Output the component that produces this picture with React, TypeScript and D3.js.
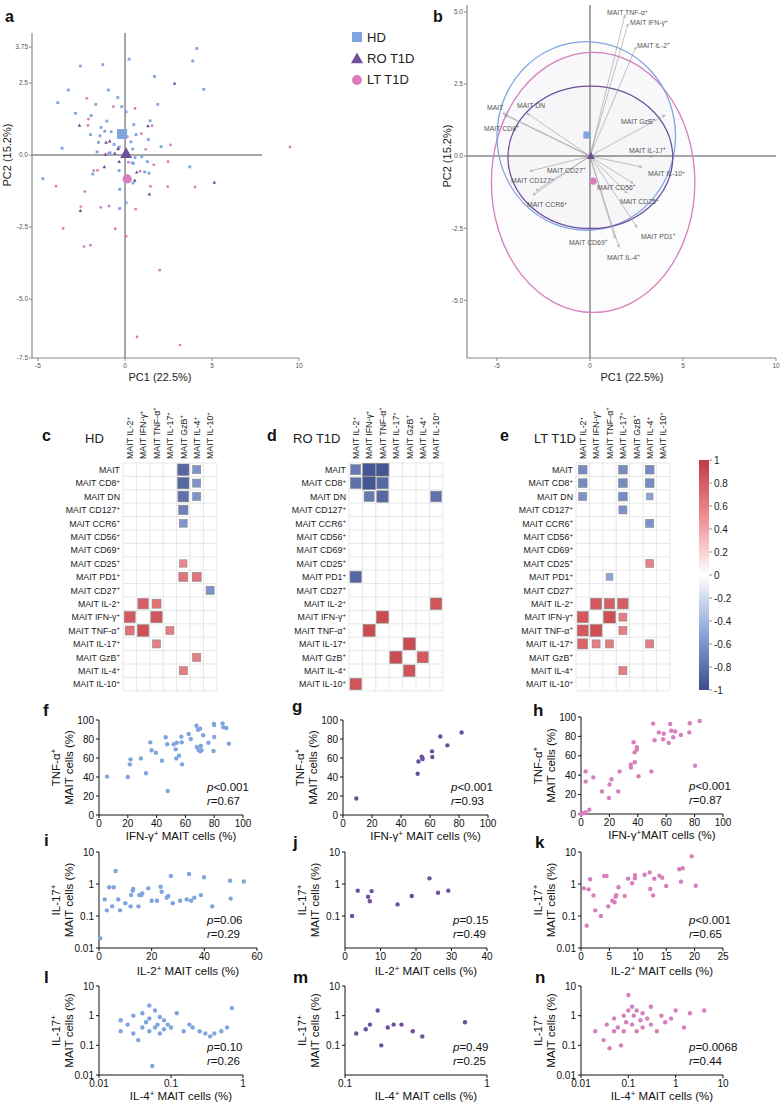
import React from "react";
import * as d3 from "d3";

const FONT = "'Liberation Sans', Arial, Helvetica, sans-serif";
const COL_HD = "#7fa5de";
const COL_RO = "#6d4f9b";
const COL_LT = "#d77fbd";

// ---------- Panel a : PCA individuals ----------
const pcaHD: [number, number][] = [
  [4.12, 3.7], [3.89, 3.27], [0.23, 3.33], [-2.57, 3.09], [-1.28, 3.14], [1.69, 2.73], [-3.26, 2.26],
  [-0.96, 2.26], [4.52, 2.28], [-3.87, 1.82], [-1.68, 1.76], [-0.42, 2.0], [1.88, 1.76], [-0.19, 1.68],
  [-2.85, 1.45], [0.06, 1.5], [-1.95, 1.37], [-1.05, 1.18], [1.44, 1.19], [0.5, 1.06], [-1.38, 0.96],
  [-1.17, 0.83], [-1.99, 0.71], [-0.8, 0.81], [-1.44, 0.67], [0.63, 0.71], [1.34, 0.54], [-1.53, 0.44],
  [-0.63, 0.37], [0.34, 0.46], [-3.62, 0.24], [-0.34, 0.28], [0.44, 0.21], [2.07, 0.29], [-1.61, 0.11],
  [-0.86, 0.08], [0.57, -0.09], [0.96, -0.06], [-1.86, -0.66], [-4.73, -0.82], [1.28, -0.23], [0.4, -0.27],
  [3.72, -0.41], [1.13, -0.59], [1.38, -0.63], [-0.34, -0.54], [0.46, -0.97], [-0.31, -1.19], [0.06, -1.66],
  [-0.31, -1.86], [0.48, -0.29],
];
const pcaRO: [number, number][] = [
  [2.85, 2.49], [-2.62, 1.03], [1.32, 1.01], [-1.09, 0.44], [-0.88, 0.48], [-1.13, 0.02], [-0.59, 0.06],
  [-0.4, 0.23], [-1.19, -0.41], [-0.34, -0.23], [0.67, -0.6], [0.56, -0.88], [1.4, -1.36], [5.13, -0.95],
  [-2.57, -1.93],
];
const pcaLT: [number, number][] = [
  [-2.2, 1.97], [-0.67, 1.68], [0.57, 1.62], [-2.11, 1.25], [-2.13, 1.03], [1.55, 1.02], [0.94, 0.74],
  [2.62, 0.35], [1.19, 0.2], [-0.4, 0.2], [1.65, -0.34], [2.47, -0.23], [-1.59, -0.53], [-1.8, -0.54],
  [0.86, -0.56], [-0.94, 0.06], [-3.97, -1.08], [-2.32, -1.27], [1.46, -1.09], [2.45, -1.1], [4.02, -1.11],
  [-1.4, -1.82], [-0.92, -1.77], [0.61, -1.88], [-3.56, -2.55], [-0.56, -2.56], [-2.36, -3.18], [-1.99, -3.13],
  [0.06, -2.82], [1.99, -4.0], [0.69, -6.32], [3.16, -6.6], [9.48, 0.28], [0.13, 0.64], [0.19, -0.25],
  [-2.55, -1.79],
];
const centroidA = { HD: [-0.17, 0.73], RO: [0.06, 0.05], LT: [0.12, -0.83] };
const ticksAY = [3.75, 2.5, 0, -2.5, -5];
const ticksAX = [-5, 0, 5, 10];

// ---------- Panel b : PCA variables ----------
const loadingNames = [
  "MAIT TNF-α^+", "MAIT IFN-γ^+", "MAIT IL-2^+", "MAIT GzB^+", "MAIT IL-17^+", "MAIT IL-10^+",
  "MAIT CD56^+", "MAIT CD25^+", "MAIT PD1^+", "MAIT CD69^+", "MAIT IL-4^+", "MAIT CD27^+",
  "MAIT CD127^+", "MAIT CCR6^+", "MAIT", "MAIT DN", "MAIT CD8^+",
];
const loadingX = [1.88, 2.04, 2.47, 4.03, 3.39, 2.8, 2.31, 1.99, 2.53, 1.34, 1.56, -3.23, -3.06, -2.9, -4.68, -3.39, -4.57];
const loadingY = [4.9, 4.58, 3.78, 1.42, 0.0, -0.38, -0.94, -1.28, -2.47, -2.85, -3.16, -0.52, -1.35, -1.2, 1.49, 1.49, 1.42];
const labelOffB: [number, number][] = [
  [-18, -2], [2, -1], [1, -2], [-44, 6], [-24, -6], [6, 7], [-36, 4], [-7, 9], [4, 9], [-46, 4], [-12, 10],
  [17, -1], [-22, -14], [-9, 14], [-16, -6], [-10, -8], [-21, 13],
];
// ellipses: cx, cy, rx, ry (PC units)
const ellipseB = {
  LT: [0.17, -0.91, 5.47, 4.51],
  HD: [-0.2, 0.7, 4.8, 3.27],
  RO: [0.02, -0.04, 4.43, 2.47],
};
const centroidB = { HD: [-0.16, 0.73], RO: [0.05, 0.0], LT: [0.17, -0.87] };
const ticksBY = [5, 2.5, 0, -2.5, -5];
const ticksBX = [-5, 0, 5, 10];

// ---------- Correlation matrices ----------
const corrRows = [
  "MAIT", "MAIT CD8^+", "MAIT DN", "MAIT CD127^+", "MAIT CCR6^+", "MAIT CD56^+", "MAIT CD69^+",
  "MAIT CD25^+", "MAIT PD1^+", "MAIT CD27^+", "MAIT IL-2^+", "MAIT IFN-γ^+", "MAIT TNF-α^+",
  "MAIT IL-17^+", "MAIT GzB^+", "MAIT IL-4^+", "MAIT IL-10^+",
];
const corrCols = [
  "MAIT IL-2^+", "MAIT IFN-γ^+", "MAIT TNF-α^+", "MAIT IL-17^+", "MAIT GzB^+", "MAIT IL-4^+", "MAIT IL-10^+",
];
// [row, col, r]
const corrHD: [number, number, number][] = [
  [0, 4, -0.85], [0, 5, -0.6], [1, 4, -0.85], [1, 5, -0.6], [2, 4, -0.8], [2, 5, -0.6], [3, 4, -0.7],
  [4, 4, -0.58], [7, 4, 0.55], [8, 4, 0.67], [8, 5, 0.67], [9, 6, -0.6], [10, 1, 0.78], [10, 2, 0.67],
  [11, 0, 0.82], [11, 2, 0.84], [12, 0, 0.67], [12, 1, 0.86], [12, 3, 0.6], [13, 2, 0.6], [14, 5, 0.6],
  [15, 4, 0.6],
];
const corrRO: [number, number, number][] = [
  [0, 0, -0.75], [0, 1, -0.95], [0, 2, -0.95], [1, 0, -0.8], [1, 1, -0.95], [1, 2, -0.85], [2, 1, -0.75],
  [2, 2, -0.85], [2, 6, -0.8], [8, 0, -0.85], [10, 6, 0.85], [11, 2, 0.9], [12, 1, 0.9], [13, 4, 0.9],
  [14, 3, 0.9], [14, 5, 0.82], [15, 4, 0.85], [16, 0, 0.85],
];
const corrLT: [number, number, number][] = [
  [0, 0, -0.65], [0, 3, -0.65], [0, 5, -0.65], [1, 0, -0.65], [1, 3, -0.65], [1, 5, -0.65], [2, 0, -0.6],
  [2, 3, -0.65], [2, 5, -0.5], [3, 3, -0.6], [4, 5, -0.6], [7, 5, 0.58], [8, 2, -0.5], [10, 1, 0.82],
  [10, 2, 0.78], [10, 3, 0.78], [11, 0, 0.82], [11, 2, 0.88], [11, 3, 0.6], [12, 0, 0.82], [12, 1, 0.88],
  [12, 3, 0.6], [13, 0, 0.75], [13, 1, 0.6], [13, 2, 0.6], [13, 5, 0.6], [15, 3, 0.6],
];
const colorbarTicks = [1, 0.8, 0.6, 0.4, 0.2, 0, -0.2, -0.4, -0.6, -0.8, -1];

// ---------- Scatter panels ----------
const fX = [5.6, 20, 21.4, 21.9, 29.1, 32.6, 35.6, 36.5, 39.5, 43.7, 46.3, 47.4, 47.7, 51.9, 53.3, 54, 53.7, 55.6, 57.2, 57.4, 57.7, 63.7, 62.3, 67.7, 68.8, 70.2, 67.9, 69.1, 70.7, 71.2, 70.2, 72.3, 76, 79.8, 80, 80, 79.5, 85.8, 86.3, 88.4, 90.2];
const fY = [40.4, 40, 53.3, 58.6, 59.6, 43.9, 76.5, 68.1, 65.6, 57.2, 81.8, 74.4, 25.3, 74.4, 69.1, 76.1, 59.6, 62.5, 82.5, 76.5, 53.3, 80, 85.3, 94, 89.8, 90.9, 71.6, 68.4, 72.6, 68.1, 67, 83.9, 76.1, 95.8, 94.7, 82.1, 67.4, 96.5, 92.3, 91.6, 75.1];
const gX = [9.2, 51.5, 52, 54.3, 54.7, 54.9, 61.4, 61.6, 67.1, 72, 81.8];
const gY = [17.4, 43.4, 56.3, 61.5, 60.1, 59, 67, 61.1, 82.6, 73.3, 86.8];
const hX = [0, 1.2, 2.8, 5.9, 3.5, 3.3, 3.3, 8.7, 14.8, 19.7, 20.1, 21.5, 26.2, 27.2, 35.1, 35.1, 37, 37.7, 39.3, 39.3, 37.9, 40.5, 49.6, 50.8, 51.8, 54.8, 57.8, 58.3, 61.8, 62.8, 63.5, 64.9, 66.3, 70.3, 76.3, 76.6, 80.3, 83.6];
const hY = [0, 0.7, 1.7, 4.4, 1.4, 43.9, 33.4, 37.8, 23.3, 16.6, 30.4, 35.8, 23.3, 43.9, 51, 48, 74, 63.5, 68.9, 66.2, 53.4, 38.9, 43.9, 93.2, 76, 84.1, 77, 82.8, 73.3, 92.9, 85.8, 79.1, 85.1, 81.4, 84.1, 93.6, 49.7, 95.9];

const iX = [6.3, 3.9, 5.6, 2.2, 7.3, 12.2, 12.8, 13, 15.3, 16.1, 16.4, 18.7, 23.4, 23.8, 25.7, 26.3, 27.3, 30.8, 34.2, 33.3, 36.2, 38.7, 39.9, 49.8, 0.5, 3, 5, 8, 10, 12, 15, 20, 22, 28, 35, 43, 50, 55];
const iY = [2.55, 0.79, 0.79, 0.33, 0.33, 0.45, 0.62, 0.7, 0.45, 0.45, 0.51, 0.73, 0.82, 0.57, 0.37, 0.42, 1.78, 0.3, 2.05, 0.33, 0.37, 0.45, 1.62, 1.27, 0.02, 0.15, 0.2, 0.15, 0.25, 0.2, 0.2, 0.3, 0.3, 0.25, 0.3, 0.2, 0.35, 1.2];
const jX = [2, 3.6, 6.5, 7.0, 7.5, 14.8, 18.8, 23.8, 26.2, 29.1];
const jY = [0.1, 0.62, 0.4, 0.29, 0.6, 0.23, 0.42, 1.5, 0.53, 0.62];
const kX = [0.5, 1.35, 1.6, 2.2, 4.1, 4.5, 6.6, 6.1, 6.2, 7.7, 8.3, 9.0, 9.5, 9.5, 11.2, 12.1, 12.2, 12.7, 12.9, 13.8, 14.3, 15, 17.3, 17.9, 17.6, 19.5, 20.2, 5.9, 1, 2.5, 3.5, 4.8, 5.5];
const kY = [0.73, 0.68, 1.4, 0.44, 1.78, 1.78, 0.79, 0.4, 0.45, 0.42, 1.47, 1.05, 1.9, 1.5, 1.95, 2.3, 0.7, 0.44, 1.47, 1.82, 1.57, 0.87, 2.9, 3.1, 1.18, 7.3, 0.88, 0.27, 0.05, 0.15, 0.1, 0.2, 0.3];
const lX = [0.02, 0.02, 0.025, 0.03, 0.03, 0.035, 0.04, 0.04, 0.045, 0.05, 0.05, 0.05, 0.055, 0.06, 0.06, 0.065, 0.07, 0.07, 0.08, 0.08, 0.09, 0.1, 0.12, 0.15, 0.18, 0.2, 0.25, 0.3, 0.35, 0.4, 0.5, 0.6, 0.7];
const lY = [0.3, 0.7, 0.5, 0.25, 1.0, 0.15, 0.4, 1.2, 0.6, 0.3, 0.8, 2.2, 0.02, 0.4, 1.5, 0.5, 0.9, 0.25, 0.35, 0.7, 0.5, 0.4, 1.2, 0.3, 0.5, 0.4, 0.3, 0.25, 0.2, 0.25, 0.3, 0.4, 1.8];
const mX = [0.12, 0.14, 0.15, 0.17, 0.18, 0.2, 0.22, 0.25, 0.3, 0.35, 0.7];
const mY = [0.25, 0.35, 0.5, 1.5, 0.1, 0.4, 0.5, 0.5, 0.3, 0.2, 0.6];
const nX = [0.02, 0.03, 0.035, 0.04, 0.05, 0.05, 0.06, 0.07, 0.08, 0.08, 0.09, 0.1, 0.1, 0.12, 0.12, 0.13, 0.15, 0.15, 0.18, 0.2, 0.2, 0.25, 0.3, 0.3, 0.4, 0.5, 0.6, 0.8, 1.0, 1.5, 2, 4];
const nY = [0.3, 0.15, 0.5, 0.08, 0.3, 0.8, 0.4, 0.1, 1.0, 0.3, 0.6, 5.0, 1.5, 0.5, 2.0, 1.0, 0.3, 1.5, 0.7, 0.4, 1.2, 0.8, 0.5, 2.0, 0.3, 1.0, 0.6, 0.8, 1.5, 0.4, 1.2, 1.5];

// ---------- helpers ----------
function rich(s: string, fs: number) {
  const parts = s.split("^");
  const out: React.ReactNode[] = [<tspan key="p0">{parts[0]}</tspan>];
  const shift = fs * 0.38;
  for (let i = 1; i < parts.length; i++) {
    const sup = parts[i].charAt(0);
    const rest = parts[i].slice(1);
    out.push(
      <tspan key={"s" + i} dy={-shift} fontSize={fs * 0.7}>
        {sup}
      </tspan>
    );
    if (rest) out.push(<tspan key={"r" + i} dy={shift}>{rest}</tspan>);
  }
  return out;
}

const Letter = ({ x, y, t }: { x: number; y: number; t: string }) => (
  <text x={x} y={y} fontSize={16} fontWeight="bold" fontFamily={FONT} fill="#111">
    {t}
  </text>
);

function triPath(cx: number, cy: number, s: number) {
  const h = s * 0.9;
  return `M${cx},${cy - h * 0.6} L${cx + s / 2},${cy + h * 0.4} L${cx - s / 2},${cy + h * 0.4} Z`;
}

// ---------- Panel A ----------
function PanelA() {
  const x = d3.scaleLinear().domain([-5.35, 10]).range([32, 299]);
  const y = d3.scaleLinear().domain([-7.05, 4.24]).range([358, 33]);
  const axc = "#8a8a8a";
  return (
    <g fontFamily={FONT}>
      <Letter x={5} y={22} t="a" />
      <line x1={x(-5.35)} x2={x(-5.35)} y1={y(4.24)} y2={y(-7.05)} stroke={axc} strokeWidth={1.2} />
      <line x1={x(-5.35)} x2={x(10)} y1={y(-7.05)} y2={y(-7.05)} stroke={axc} strokeWidth={1.2} />
      <line x1={x(-5.35)} x2={262} y1={y(0)} y2={y(0)} stroke={axc} strokeWidth={1.5} />
      <line x1={x(0)} x2={x(0)} y1={y(4.24)} y2={y(-7.05)} stroke={axc} strokeWidth={1.5} />
      {ticksAY.map((t) => (
        <g key={t}>
          <line x1={x(-5.35) - 3} x2={x(-5.35)} y1={y(t)} y2={y(t)} stroke={axc} />
          <text x={x(-5.35) - 4} y={y(t) + 2.3} fontSize={6.5} fill="#555" textAnchor="end">
            {t === 3.75 ? "3.75" : t.toFixed(1)}
          </text>
        </g>
      ))}
      <line x1={x(-5.35) - 3} x2={x(-5.35)} y1={y(-7.05)} y2={y(-7.05)} stroke={axc} />
      <text x={x(-5.35) - 4} y={y(-7.05) + 2.3} fontSize={6.5} fill="#555" textAnchor="end">-7.5</text>
      {ticksAX.map((t) => (
        <g key={t}>
          <line x1={x(t)} x2={x(t)} y1={y(-7.05)} y2={y(-7.05) + 3} stroke={axc} />
          <text x={x(t)} y={y(-7.05) + 10} fontSize={6.5} fill="#555" textAnchor="middle">{t}</text>
        </g>
      ))}
      <text x={160} y={381} fontSize={11} textAnchor="middle" fill="#222">PC1 (22.5%)</text>
      <text transform={`translate(11,${y(0)}) rotate(-90)`} fontSize={11} textAnchor="middle" fill="#222">PC2 (15.2%)</text>
      {pcaLT.map((d, i) => (
        <circle key={"l" + i} cx={x(d[0])} cy={y(d[1])} r={1.4} fill={COL_LT} />
      ))}
      {pcaHD.map((d, i) => (
        <rect key={"h" + i} x={x(d[0]) - 1.4} y={y(d[1]) - 1.4} width={2.8} height={2.8} fill={COL_HD} />
      ))}
      {pcaRO.map((d, i) => (
        <path key={"r" + i} d={triPath(x(d[0]), y(d[1]), 3.6)} fill={COL_RO} />
      ))}
      <rect x={x(centroidA.HD[0]) - 5} y={y(centroidA.HD[1]) - 5} width={10} height={10} fill={COL_HD} />
      <path d={triPath(x(centroidA.RO[0]), y(centroidA.RO[1]), 12)} fill={COL_RO} />
      <circle cx={x(centroidA.LT[0])} cy={y(centroidA.LT[1])} r={4.6} fill={COL_LT} />
    </g>
  );
}

function Legend() {
  return (
    <g fontFamily={FONT} fontSize={13} fill="#222">
      <rect x={352} y={32} width={10} height={10} fill={COL_HD} />
      <path d={triPath(357, 59, 12)} fill={COL_RO} />
      <circle cx={357} cy={80} r={5} fill={COL_LT} />
      <text x={367} y={42}>HD</text>
      <text x={367} y={63}>RO T1D</text>
      <text x={367} y={84}>LT T1D</text>
    </g>
  );
}

// ---------- Panel B ----------
function PanelB() {
  const x = d3.scaleLinear().domain([-6.61, 10]).range([467, 776]);
  const y = d3.scaleLinear().domain([-7.0, 5.24]).range([358, 5]);
  const kx = x(1) - x(0);
  const ky = y(0) - y(1);
  const axc = "#8a8a8a";
  const ells: [string, number[]][] = [
    [COL_LT, ellipseB.LT],
    [COL_HD, ellipseB.HD],
    [COL_RO, ellipseB.RO],
  ];
  return (
    <g fontFamily={FONT}>
      <defs>
        <marker id="arr" viewBox="0 0 8 8" refX={7} refY={4} markerWidth={6} markerHeight={6} orient="auto">
          <path d="M0,0.8 L7,4 L0,7.2" fill="none" stroke="#888" strokeWidth={0.9} />
        </marker>
      </defs>
      <Letter x={433} y={22} t="b" />
      {ells.map(([c, e], i) => (
        <ellipse key={"f" + i} cx={x(e[0])} cy={y(e[1])} rx={e[2] * kx} ry={e[3] * ky} fill="#dcdce4" fillOpacity={0.09} />
      ))}
      <line x1={x(-6.61)} x2={x(-6.61)} y1={y(5.24)} y2={y(-7)} stroke={axc} strokeWidth={1.2} />
      <line x1={x(-6.61)} x2={x(10)} y1={y(-7)} y2={y(-7)} stroke={axc} strokeWidth={1.2} />
      <line x1={x(-6.61)} x2={x(10)} y1={y(0)} y2={y(0)} stroke={axc} strokeWidth={1.5} />
      <line x1={x(0)} x2={x(0)} y1={y(5.24)} y2={y(-7)} stroke={axc} strokeWidth={1.5} />
      {ticksBY.map((t) => (
        <g key={t}>
          <line x1={x(-6.61) - 3} x2={x(-6.61)} y1={y(t)} y2={y(t)} stroke={axc} />
          <text x={x(-6.61) - 4} y={y(t) + 2.3} fontSize={6.5} fill="#555" textAnchor="end">{t.toFixed(1)}</text>
        </g>
      ))}
      {ticksBX.map((t) => (
        <g key={t}>
          <line x1={x(t)} x2={x(t)} y1={y(-7)} y2={y(-7) + 3} stroke={axc} />
          <text x={x(t)} y={y(-7) + 10} fontSize={6.5} fill="#555" textAnchor="middle">{t}</text>
        </g>
      ))}
      <text x={632} y={381} fontSize={11} textAnchor="middle" fill="#222">PC1 (22.5%)</text>
      <text transform={`translate(451,${y(0)}) rotate(-90)`} fontSize={11} textAnchor="middle" fill="#222">PC2 (15.2%)</text>
      {ells.map(([c, e], i) => (
        <ellipse key={"s" + i} cx={x(e[0])} cy={y(e[1])} rx={e[2] * kx} ry={e[3] * ky} fill="none" stroke={c} strokeWidth={1.3} />
      ))}
      {loadingNames.map((n, i) => (
        <line key={"a" + i} x1={x(0)} y1={y(0)} x2={x(loadingX[i])} y2={y(loadingY[i])} stroke="#999" strokeWidth={0.6} markerEnd="url(#arr)" />
      ))}
      {loadingNames.map((n, i) => (
        <text key={"t" + i} x={x(loadingX[i]) + labelOffB[i][0]} y={y(loadingY[i]) + labelOffB[i][1] + 2.4} fontSize={6.9} fill="#555">
          {rich(n, 6.9)}
        </text>
      ))}
      <rect x={x(centroidB.HD[0]) - 3.6} y={y(centroidB.HD[1]) - 3.6} width={7.2} height={7.2} fill={COL_HD} />
      <path d={triPath(x(centroidB.RO[0]), y(centroidB.RO[1]), 8)} fill={COL_RO} />
      <circle cx={x(centroidB.LT[0])} cy={y(centroidB.LT[1])} r={3.6} fill={COL_LT} />
    </g>
  );
}

// ---------- Heatmaps ----------
const corrColor = d3
  .scaleLinear<string>()
  .domain([-1, -0.5, 0, 0.5, 1])
  .range(["#3e4d8c", "#8da6d9", "#ffffff", "#ef8f95", "#c33a40"])
  .interpolate(d3.interpolateRgb);

function Heat({ left, data }: { left: number; data: [number, number, number][] }) {
  const top = 463;
  const cell = 13.4;
  const xb = d3.scaleBand<number>().domain(d3.range(corrCols.length)).range([left, left + cell * corrCols.length]);
  const yb = d3.scaleBand<number>().domain(d3.range(corrRows.length)).range([top, top + cell * corrRows.length]);
  const W = cell * corrCols.length;
  const H = cell * corrRows.length;
  const fs = 8.8;
  return (
    <g fontFamily={FONT}>
      {d3.range(corrCols.length + 1).map((i) => (
        <line key={"v" + i} x1={left + i * cell} x2={left + i * cell} y1={top} y2={top + H} stroke="#dcdcdc" strokeWidth={0.7} />
      ))}
      {d3.range(corrRows.length + 1).map((i) => (
        <line key={"h" + i} x1={left} x2={left + W} y1={top + i * cell} y2={top + i * cell} stroke="#dcdcdc" strokeWidth={0.7} />
      ))}
      {corrRows.map((r, i) => (
        <text key={"r" + i} x={left - 3} y={(yb(i) as number) + cell / 2 + 3.2} fontSize={fs} textAnchor="end" fill="#222">
          {rich(r, fs)}
        </text>
      ))}
      {corrCols.map((c, i) => (
        <text key={"c" + i} transform={`translate(${(xb(i) as number) + cell / 2 + 3.2},${top - 4}) rotate(-90)`} fontSize={fs} fill="#222">
          {rich(c, fs)}
        </text>
      ))}
      {data.map(([r, c, v], k) => {
        const s = Math.abs(v) * cell;
        const cx = (xb(c) as number) + cell / 2;
        const cy = (yb(r) as number) + cell / 2;
        return <rect key={k} x={cx - s / 2} y={cy - s / 2} width={s} height={s} fill={corrColor(v)} stroke="#8a8a8a" strokeWidth={0.6} />;
      })}
    </g>
  );
}

function ColorBar() {
  const y = d3.scaleLinear().domain([-1, 1]).range([690, 460]);
  const stops = d3.range(-1, 1.001, 0.1);
  return (
    <g fontFamily={FONT}>
      <defs>
        <linearGradient id="cb" x1="0" y1="1" x2="0" y2="0">
          {stops.map((s, i) => (
            <stop key={i} offset={(s + 1) / 2} stopColor={corrColor(s)} />
          ))}
        </linearGradient>
      </defs>
      <rect x={699} y={y(1)} width={10} height={y(-1) - y(1)} fill="url(#cb)" />
      {colorbarTicks.map((t) => (
        <g key={t}>
          <line x1={709} x2={712} y1={y(t)} y2={y(t)} stroke="#666" strokeWidth={0.7} />
          <text x={714} y={y(t) + 3.5} fontSize={10} fill="#222">{t === 0 ? "0" : String(t)}</text>
        </g>
      ))}
    </g>
  );
}

// ---------- Scatter ----------
type SP = {
  letter: string; lx: number; ly: number;
  x0: number; x1: number; yTop: number; yBot: number;
  xLog?: boolean; yLog?: boolean;
  xDom: [number, number]; yDom: [number, number];
  xTicks: number[]; yTicks: number[];
  xs: number[]; ys: number[]; color: string;
  yl1: string; xl: string; p: string; r: string; xlDy: number;
};

function Scatter(p: SP) {
  const x = (p.xLog ? d3.scaleLog() : d3.scaleLinear()).domain(p.xDom).range([p.x0, p.x1]);
  const y = (p.yLog ? d3.scaleLog() : d3.scaleLinear()).domain(p.yDom).range([p.yBot, p.yTop]);
  const fs = 10;
  const cy = (p.yTop + p.yBot) / 2;
  return (
    <g fontFamily={FONT} fill="#111">
      <text x={p.lx} y={p.ly} fontSize={17} fontWeight="bold">{p.letter}</text>
      <line x1={p.x0} x2={p.x0} y1={p.yTop} y2={p.yBot} stroke="#111" strokeWidth={1} />
      <line x1={p.x0} x2={p.x1} y1={p.yBot} y2={p.yBot} stroke="#111" strokeWidth={1} />
      {p.yTicks.map((t) => (
        <g key={"y" + t}>
          <line x1={p.x0 - 3} x2={p.x0} y1={y(t)} y2={y(t)} stroke="#111" />
          <text x={p.x0 - 5} y={y(t) + 3.5} fontSize={fs} textAnchor="end">{String(t)}</text>
        </g>
      ))}
      {p.xTicks.map((t) => (
        <g key={"x" + t}>
          <line x1={x(t)} x2={x(t)} y1={p.yBot} y2={p.yBot + 3} stroke="#111" />
          <text x={x(t)} y={p.yBot + 12} fontSize={fs} textAnchor="middle">{String(t)}</text>
        </g>
      ))}
      <text transform={`translate(${p.x0 - 39},${cy}) rotate(-90)`} fontSize={11.5} textAnchor="middle">
        {rich(p.yl1, 11.5)}
      </text>
      <text transform={`translate(${p.x0 - 26},${cy}) rotate(-90)`} fontSize={11.5} textAnchor="middle">
        MAIT cells (%)
      </text>
      <text x={(p.x0 + p.x1) / 2 + 10} y={p.yBot + p.xlDy} fontSize={11.5} textAnchor="middle">
        {rich(p.xl, 11.5)}
      </text>
      {p.xs.map((v, i) => (
        <circle key={i} cx={x(v)} cy={y(p.ys[i])} r={2.2} fill={p.color} />
      ))}
      <text x={p.x0 + 108} y={p.yBot - 24} fontSize={11.5}>
        <tspan fontStyle="italic">p</tspan>
        {p.p}
      </text>
      <text x={p.x0 + 108} y={p.yBot - 10} fontSize={11.5}>
        <tspan fontStyle="italic">r</tspan>
        {p.r}
      </text>
    </g>
  );
}

export default function App() {
  const row1 = { yTop: 720, yBot: 815, xlDy: 25 };
  const row2 = { yTop: 852, yBot: 948, xlDy: 27 };
  const row3 = { yTop: 986, yBot: 1075, xlDy: 25 };
  return (
    <svg width={780} height={1105} style={{ position: "absolute", left: 0, top: 0, background: "#fff" }}>
      <rect width={780} height={1105} fill="#fff" />
      <PanelA />
      <Legend />
      <PanelB />
      <g fontFamily={FONT}>
        <Letter x={42} y={441} t="c" />
        <text x={85} y={443} fontSize={13} fill="#222">HD</text>
        <Letter x={267} y={441} t="d" />
        <text x={293} y={443} fontSize={13} fill="#222">RO T1D</text>
        <Letter x={500} y={441} t="e" />
        <text x={534} y={443} fontSize={13} fill="#222">LT T1D</text>
      </g>
      <Heat left={123} data={corrHD} />
      <Heat left={349} data={corrRO} />
      <Heat left={576} data={corrLT} />
      <ColorBar />

      <Scatter letter="f" lx={43} ly={716} x0={99} x1={243} {...row1} xDom={[0, 100]} yDom={[0, 100]}
        xTicks={[0, 20, 40, 60, 80, 100]} yTicks={[0, 20, 40, 60, 80, 100]} xs={fX} ys={fY} color={COL_HD}
        yl1="TNF-α^+" xl="IFN-γ^+ MAIT cells (%)" p="<0.001" r="=0.67" />
      <Scatter letter="g" lx={292} ly={712} x0={343} x1={488} {...row1} xDom={[0, 100]} yDom={[0, 100]}
        xTicks={[0, 20, 40, 60, 80, 100]} yTicks={[0, 20, 40, 60, 80, 100]} xs={gX} ys={gY} color={COL_RO}
        yl1="TNF-α^+" xl="IFN-γ^+ MAIT cells (%)" p="<0.001" r="=0.93" />
      <Scatter letter="h" lx={533} ly={716} x0={581} x1={723} {...row1} yTop={717} yBot={814} xDom={[0, 100]} yDom={[0, 100]}
        xTicks={[0, 20, 40, 60, 80, 100]} yTicks={[0, 20, 40, 60, 80, 100]} xs={hX} ys={hY} color={COL_LT}
        yl1="TNF-α^+" xl="IFN-γ^+MAIT cells (%)" p="<0.001" r="=0.87" />

      <Scatter letter="i" lx={44} ly={846} x0={99} x1={257} {...row2} yLog xDom={[0, 60]} yDom={[0.01, 10]}
        xTicks={[0, 20, 40, 60]} yTicks={[0.01, 0.1, 1, 10]} xs={iX} ys={iY} color={COL_HD}
        yl1="IL-17^+" xl="IL-2^+ MAIT cells (%)" p="=0.06" r="=0.29" />
      <Scatter letter="j" lx={293} ly={848} x0={345} x1={487} {...row2} yLog xDom={[0, 40]} yDom={[0.01, 10]}
        xTicks={[0, 10, 20, 30, 40]} yTicks={[0.1, 1, 10]} xs={jX} ys={jY} color={COL_RO}
        yl1="IL-17^+" xl="IL-2^+ MAIT cells (%)" p="=0.15" r="=0.49" />
      <Scatter letter="k" lx={535} ly={848} x0={581} x1={723} {...row2} yLog xDom={[0, 25]} yDom={[0.01, 10]}
        xTicks={[0, 5, 10, 15, 20, 25]} yTicks={[0.01, 0.1, 1, 10]} xs={kX} ys={kY} color={COL_LT}
        yl1="IL-17^+" xl="IL-2^+ MAIT cells (%)" p="<0.001" r="=0.65" />

      <Scatter letter="l" lx={44} ly={983} x0={99} x1={243} {...row3} xLog yLog xDom={[0.01, 1]} yDom={[0.01, 10]}
        xTicks={[0.01, 0.1, 1]} yTicks={[0.01, 0.1, 1, 10]} xs={lX} ys={lY} color={COL_HD}
        yl1="IL-17^+" xl="IL-4^+ MAIT cells (%)" p="=0.10" r="=0.26" />
      <Scatter letter="m" lx={293} ly={983} x0={345} x1={487} {...row3} xLog yLog xDom={[0.1, 1]} yDom={[0.01, 10]}
        xTicks={[0.1, 1]} yTicks={[0.1, 1, 10]} xs={mX} ys={mY} color={COL_RO}
        yl1="IL-17^+" xl="IL-4^+ MAIT cells (%)" p="=0.49" r="=0.25" />
      <Scatter letter="n" lx={535} ly={983} x0={581} x1={723} {...row3} xLog yLog xDom={[0.01, 10]} yDom={[0.01, 10]}
        xTicks={[0.01, 0.1, 1, 10]} yTicks={[0.01, 0.1, 1, 10]} xs={nX} ys={nY} color={COL_LT}
        yl1="IL-17^+" xl="IL-4^+ MAIT cells (%)" p="=0.0068" r="=0.44" />
    </svg>
  );
}
